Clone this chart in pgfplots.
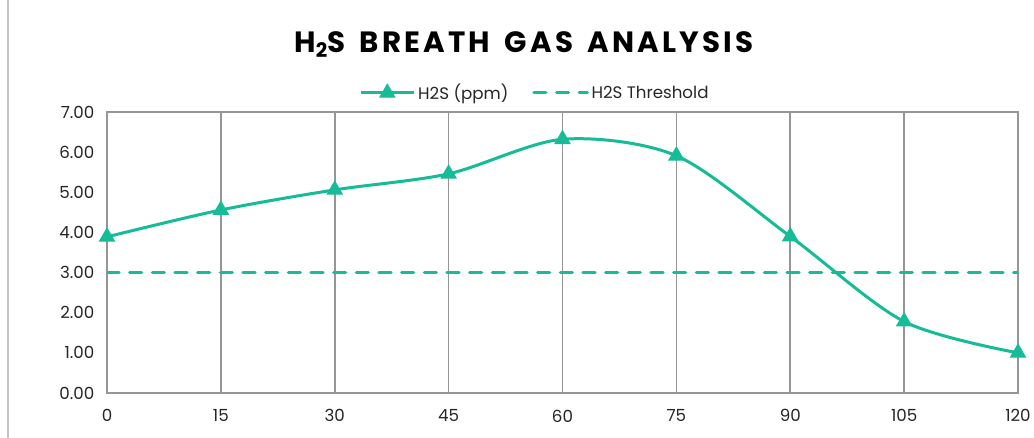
\documentclass[border=0pt]{standalone}
\usepackage{fontspec}
\setmainfont{Poppins}
\newfontfamily\titlefont[LetterSpace=11, WordSpace=1.5]{Poppins}
\usepackage{pgfplots}
\pgfplotsset{compat=1.18}
\definecolor{teal1}{RGB}{22,187,152}
\definecolor{gridgray}{RGB}{150,150,150}
\begin{document}
\begin{tikzpicture}[x=1pt,y=1pt]
\useasboundingbox[fill=white] (0,0) rectangle (775.5,328.5);
\draw[gray!45, line width=0.8pt] (6,0) -- (6,328.5);
\node[font=\titlefont\bfseries\fontsize{22}{24}\selectfont, text=black] at (393,295)
  {H\raisebox{-4pt}{\fontsize{15}{15}\selectfont 2}S BREATH GAS ANALYSIS};
\begin{axis}[
  at={(80.25pt,33.75pt)}, anchor=south west,
  scale only axis, width=683.25pt, height=210.75pt,
  xmin=0, xmax=120, ymin=0, ymax=7,
  xtick={0,15,...,120}, ytick={0,1,...,7},
  /pgf/number format/assume math mode=true,
  yticklabel style={/pgf/number format/fixed, /pgf/number format/fixed zerofill, /pgf/number format/precision=2, xshift=-6pt},
  xticklabel style={yshift=-9pt},
  ticklabel style={font=\fontsize{12.5}{14}\selectfont, text=black!85},
  xmajorgrids, grid style={gridgray, line width=1.2pt},
  axis line style={gridgray, line width=1.2pt},
  major tick style={draw=none},
  legend columns=2,
  legend style={at={(0.47,1.068)}, anchor=center, draw=none, fill=none,
    font=\fontsize{12.5}{14}\selectfont, text=black!85,
    /tikz/every even column/.append style={column sep=16pt}},
  legend image code/.code={\draw[mark repeat=2,mark phase=2,#1] plot coordinates {(0pt,0pt) (20pt,0pt) (40pt,0pt)};},
]
\addplot[teal1, line width=2.25pt, smooth, tension=0.5, mark=triangle*, mark size=5pt,
  mark options={solid}] coordinates {
  (0,3.89) (15,4.56) (30,5.06) (45,5.46) (60,6.32) (75,5.91) (90,3.90) (105,1.78) (120,1.00)
};
\addlegendentry{H2S (ppm)}
\addplot[teal1, line width=2.4pt, line cap=round, dash pattern=on 9pt off 8pt] coordinates {
  (0,3) (15,3) (30,3) (45,3) (60,3) (75,3) (90,3) (105,3) (120,3)
};
\addlegendentry{H2S Threshold}
\end{axis}
\end{tikzpicture}
\end{document}
